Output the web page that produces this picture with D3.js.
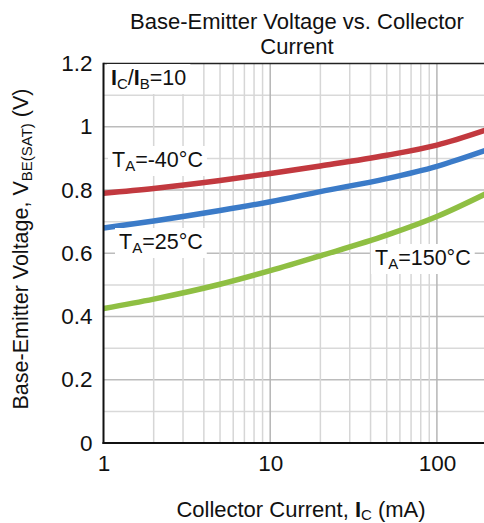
<!DOCTYPE html>
<html>
<head>
<meta charset="utf-8">
<script src="https://cdn.jsdelivr.net/npm/d3@7"></script>
<style>
  html, body { margin: 0; padding: 0; background: #fff; }
  svg { display: block; font-family: "Liberation Sans", Arial, sans-serif; }
</style>
</head>
<body>
<svg id="chart" width="484" height="523"></svg>
<script>
// ---- data ----
const currents = [1, 2, 5, 10, 20, 50, 100, 200];           // mA
const vMinus40 = [0.790, 0.805, 0.830, 0.852, 0.876, 0.910, 0.942, 0.991];
const v25      = [0.680, 0.702, 0.735, 0.763, 0.795, 0.836, 0.875, 0.927];
const v150     = [0.425, 0.455, 0.502, 0.545, 0.592, 0.657, 0.716, 0.790];
const seriesNames = ["-40", "25", "150"];
const yTickValues = [0, 0.2, 0.4, 0.6, 0.8, 1, 1.2];
const yTickLabels = ["0", "0.2", "0.4", "0.6", "0.8", "1", "1.2"];
const yMinorValues = [0.1, 0.3, 0.5, 0.7, 0.9, 1.1];
const xTickValues = [1, 10, 100];
const xTickLabels = ["1", "10", "100"];
const xMinorValues = [2,3,4,5,6,7,8,9,20,30,40,50,60,70,80,90];

// ---- layout ----
const svg = d3.select("#chart");
const L = 103.5, T = 63.5, B = 443, decade = 166.7;
const x = d3.scaleLog().domain([1, 200]).range([L, L + Math.log10(200) * decade]);
const y = d3.scaleLinear().domain([0, 1.2]).range([B, T]);
const R = 484;
const FONT = "Liberation Sans, Arial, sans-serif";

const grid = svg.append("g");
grid.selectAll(".hm").data(yMinorValues).enter().append("line")
  .attr("x1", L).attr("x2", R).attr("y1", d => y(d)).attr("y2", d => y(d))
  .attr("stroke", "#d9d9d9").attr("stroke-width", 1.5);
grid.selectAll(".hM").data(yTickValues.filter(d => d > 0 && d < 1.2)).enter().append("line")
  .attr("x1", L).attr("x2", R).attr("y1", d => y(d)).attr("y2", d => y(d))
  .attr("stroke", "#bcbcbc").attr("stroke-width", 1.5);
grid.selectAll(".vm").data(xMinorValues).enter().append("line")
  .attr("x1", d => x(d)).attr("x2", d => x(d)).attr("y1", T).attr("y2", B)
  .attr("stroke", "#d6d6d6").attr("stroke-width", 1.5);
grid.selectAll(".vM").data(xTickValues.filter(d => d > 1)).enter().append("line")
  .attr("x1", d => x(d)).attr("x2", d => x(d)).attr("y1", T).attr("y2", B)
  .attr("stroke", "#b5b5b5").attr("stroke-width", 1.5);

// top border
svg.append("line").attr("x1", L).attr("x2", R).attr("y1", T).attr("y2", T)
  .attr("stroke", "#222").attr("stroke-width", 1.5);

// curves
const colors = ["#c2393f", "#3b7bc8", "#8fbf43"];
const allSeries = [vMinus40, v25, v150];
const line = d3.line().x(d => x(d[0])).y(d => y(d[1])).curve(d3.curveMonotoneX);
allSeries.forEach((vals, i) => {
  svg.append("path")
    .datum(currents.map((c, j) => [c, vals[j]]))
    .attr("d", line)
    .attr("fill", "none")
    .attr("stroke", colors[i])
    .attr("stroke-width", 5.5);
});

// axes
const yAxis = d3.axisLeft(y).tickValues(yTickValues).tickSize(0).tickPadding(11)
  .tickFormat((d, i) => yTickLabels[i]);
const gy = svg.append("g").attr("transform", `translate(${L},0)`).call(yAxis);
gy.select(".domain").remove();
gy.selectAll("text").attr("font-size", 22.5).attr("fill", "#111").attr("font-family", FONT);

const xAxis = d3.axisBottom(x).tickValues(xTickValues).tickSize(0).tickPadding(12)
  .tickFormat((d, i) => xTickLabels[i]);
const gx = svg.append("g").attr("transform", `translate(0,${B})`).call(xAxis);
gx.select(".domain").remove();
gx.selectAll("text").attr("font-size", 22.5).attr("fill", "#111").attr("font-family", FONT);

// axis lines
svg.append("line").attr("x1", L).attr("x2", L).attr("y1", T - 0.75).attr("y2", B + 1)
  .attr("stroke", "#111").attr("stroke-width", 2);
svg.append("line").attr("x1", L - 1).attr("x2", R).attr("y1", B).attr("y2", B)
  .attr("stroke", "#111").attr("stroke-width", 2);

// title
const title = svg.append("text").attr("text-anchor", "middle").attr("font-size", 22).attr("fill", "#111");
title.append("tspan").attr("x", 297).attr("y", 29).text("Base-Emitter Voltage vs. Collector");
title.append("tspan").attr("x", 297).attr("y", 54).text("Current");

// x label
const xl = svg.append("text").attr("x", 301).attr("y", 517).attr("text-anchor", "middle")
  .attr("font-size", 22).attr("fill", "#111");
xl.append("tspan").text("Collector Current, ");
xl.append("tspan").attr("font-weight", "bold").text("I");
xl.append("tspan").attr("font-size", 15).attr("dy", 3).text("C");
xl.append("tspan").attr("dy", -3).text(" (mA)");

// y label
const yl = svg.append("text").attr("transform", "translate(28,249) rotate(-90)")
  .attr("text-anchor", "middle").attr("font-size", 21.5).attr("fill", "#111");
yl.append("tspan").text("Base-Emitter Voltage, V");
yl.append("tspan").attr("font-size", 15).attr("dy", 4).text("BE(SAT)");
yl.append("tspan").attr("dy", -4).text(" (V)");

// annotations with white background
function label(px, py, parts) {
  const g = svg.append("g");
  const rect = g.append("rect").attr("fill", "#fff");
  const t = g.append("text").attr("x", px).attr("y", py).attr("font-size", 21.5).attr("fill", "#111");
  parts.forEach(p => {
    const s = t.append("tspan").text(p.t);
    if (p.sub) s.attr("font-size", 15).attr("dy", 4);
    if (p.back) s.attr("dy", -4);
    if (p.bold) s.attr("font-weight", "bold");
  });
  const bb = t.node().getBBox();
  rect.attr("x", bb.x - 4).attr("y", bb.y - 2).attr("width", bb.width + 8).attr("height", bb.height + 4);
}
label(111, 85, [{t: "I", bold: true}, {t: "C", sub: true}, {t: "/", back: true}, {t: "I", bold: true}, {t: "B", sub: true}, {t: "=10", back: true}]);
label(112, 167, [{t: "T"}, {t: "A", sub: true}, {t: "=-40°C", back: true}]);
label(119, 249, [{t: "T"}, {t: "A", sub: true}, {t: "=25°C", back: true}]);
label(375, 265, [{t: "T"}, {t: "A", sub: true}, {t: "=150°C", back: true}]);
</script>
</body>
</html>
